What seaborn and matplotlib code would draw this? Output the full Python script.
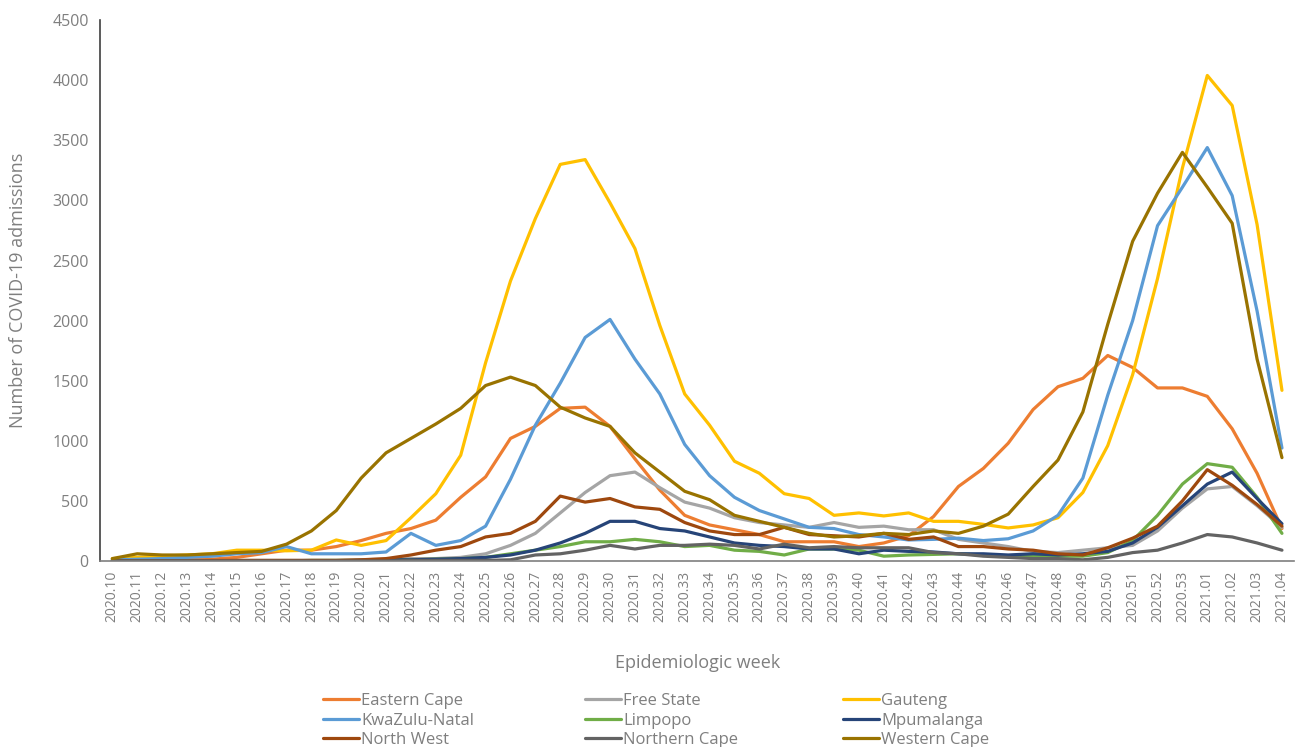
import matplotlib
matplotlib.use("Agg")
import matplotlib.pyplot as plt
import numpy as np
import pandas as pd
import seaborn as sns

# epidemiologic weeks
weeks = ["2020.%02d" % w for w in range(10, 54)] + ["2021.01", "2021.02", "2021.03", "2021.04"]

provinces = ["Eastern Cape", "Free State", "Gauteng", "KwaZulu-Natal", "Limpopo",
             "Mpumalanga", "North West", "Northern Cape", "Western Cape"]

colours = ["#ED7D31", "#A5A5A5", "#FFC000", "#5B9BD5", "#70AD47",
           "#264478", "#9E480E", "#636363", "#997300"]

eastern_cape = [5, 5, 10, 15, 15, 30, 60, 90, 90, 120, 170, 230, 270, 340, 530, 700,
                1020, 1120, 1270, 1280, 1120, 850, 590, 380, 300, 260, 220, 160, 160, 160,
                120, 150, 210, 370, 620, 770, 980, 1260, 1450, 1520, 1710, 1610, 1440, 1440,
                1370, 1100, 730, 270]
free_state = [0, 0, 0, 0, 0, 5, 5, 5, 5, 5, 10, 15, 20, 20, 30, 60,
              130, 230, 400, 570, 710, 740, 610, 490, 440, 360, 320, 300, 280, 320,
              280, 290, 260, 260, 180, 150, 120, 80, 70, 90, 110, 130, 250, 440,
              600, 620, 460, 280]
gauteng = [20, 30, 40, 50, 60, 90, 90, 85, 90, 175, 130, 170, 360, 560, 880, 1650,
           2330, 2850, 3300, 3340, 2980, 2600, 1960, 1390, 1130, 830, 730, 560, 520, 380,
           400, 375, 400, 330, 330, 305, 275, 300, 360, 570, 960, 1550, 2350, 3270,
           4040, 3790, 2800, 1420]
kwazulu_natal = [10, 15, 20, 30, 40, 60, 70, 120, 60, 60, 60, 75, 230, 130, 170, 290,
                 680, 1130, 1480, 1860, 2010, 1680, 1390, 970, 710, 530, 420, 350, 280, 270,
                 220, 200, 175, 180, 190, 170, 185, 250, 380, 690, 1380, 2000, 2790, 3110,
                 3440, 3040, 2080, 940]
limpopo = [0, 0, 0, 0, 0, 0, 0, 0, 5, 5, 5, 10, 10, 15, 20, 30,
           60, 90, 120, 160, 160, 180, 160, 120, 130, 90, 80, 50, 100, 100,
           90, 40, 50, 55, 60, 50, 40, 40, 40, 40, 70, 170, 380, 640,
           810, 780, 530, 230]
mpumalanga = [0, 0, 0, 0, 0, 0, 0, 0, 0, 0, 5, 10, 10, 15, 20, 30,
              50, 90, 150, 230, 330, 330, 270, 250, 200, 150, 130, 120, 100, 100,
              60, 90, 80, 75, 60, 60, 50, 60, 50, 60, 80, 150, 280, 460,
              640, 740, 520, 310]
north_west = [0, 0, 0, 0, 5, 5, 5, 5, 5, 5, 10, 20, 50, 90, 120, 200,
              230, 330, 540, 490, 520, 450, 430, 320, 250, 220, 220, 280, 220, 210,
              200, 230, 180, 200, 120, 120, 100, 90, 60, 50, 110, 190, 290, 500,
              760, 630, 470, 290]
northern_cape = [0, 0, 0, 0, 0, 0, 0, 0, 0, 0, 0, 0, 5, 5, 5, 5,
                 10, 50, 60, 90, 130, 100, 130, 130, 140, 130, 100, 140, 110, 120,
                 110, 110, 110, 70, 60, 40, 30, 20, 20, 10, 30, 70, 90, 150,
                 220, 200, 150, 90]
western_cape = [20, 60, 50, 50, 60, 70, 80, 140, 250, 420, 690, 900, 1020, 1140, 1270, 1460,
                1530, 1460, 1280, 1190, 1120, 900, 740, 580, 510, 380, 330, 280, 230, 200,
                210, 230, 220, 250, 230, 290, 390, 620, 840, 1240, 1970, 2660, 3060, 3400,
                3110, 2810, 1680, 860]

series = [eastern_cape, free_state, gauteng, kwazulu_natal, limpopo,
          mpumalanga, north_west, northern_cape, western_cape]

# long format for seaborn
frames = []
for name, values in zip(provinces, series):
    frames.append(pd.DataFrame({"week": np.arange(len(weeks)), "admissions": values, "province": name}))
df = pd.concat(frames, ignore_index=True)

sns.set_style("white")
plt.rcParams['font.family'] = ['Open Sans', 'DejaVu Sans']

fig = plt.figure(figsize=(12.97, 7.47), dpi=100)
ax = fig.add_axes([0.077, 0.249, 0.921, 0.724])

sns.lineplot(data=df, x="week", y="admissions", hue="province", hue_order=provinces,
             palette=colours, linewidth=2.3, ax=ax, legend=True)

text_grey = "#7F7F7F"
ax.set_xlim(-0.5, len(weeks) - 0.5)
ax.set_ylim(0, 4500)
ax.set_yticks(range(0, 4501, 500))
ax.set_xticks(range(len(weeks)))
ax.set_xticklabels(weeks, rotation=90, fontsize=10, color=text_grey)
ax.tick_params(axis="y", labelsize=11.5, colors=text_grey, length=0, pad=8)
ax.tick_params(axis="x", length=0, pad=7)
ax.set_xlabel("Epidemiologic week", fontsize=13, color=text_grey, labelpad=23)
ax.set_ylabel("Number of COVID-19 admissions", fontsize=13, color=text_grey, labelpad=18)

for side in ["top", "right"]:
    ax.spines[side].set_visible(False)
ax.spines["left"].set_color("#404040")
ax.spines["bottom"].set_color("#7F7F7F")
ax.spines["left"].set_linewidth(1.2)
ax.spines["bottom"].set_linewidth(1.2)

# legend: three columns placed like the original (row by row)
handles, labels = ax.get_legend_handles_labels()
ax.get_legend().remove()
column_x = [323 / 1297, 585 / 1297, 843 / 1297]
for col, x0 in enumerate(column_x):
    idx = [col, col + 3, col + 6]
    leg = fig.legend([handles[i] for i in idx], [labels[i] for i in idx],
                     loc="upper left", bbox_to_anchor=(x0, 0.072), ncol=1, frameon=False,
                     fontsize=12, handlelength=2.15, handletextpad=0.15,
                     labelspacing=0.2, borderpad=0, borderaxespad=0)
    for t in leg.get_texts():
        t.set_color(text_grey)

fig.savefig("out.png", dpi=100)
